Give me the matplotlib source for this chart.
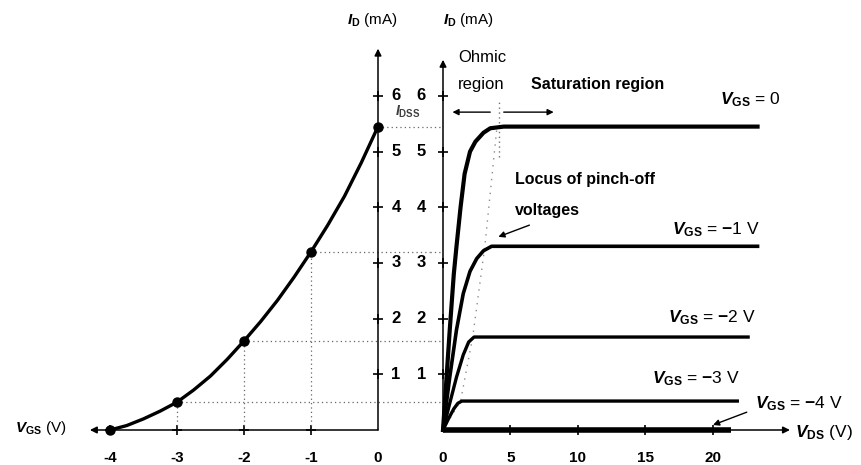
import numpy as np
import matplotlib.pyplot as plt

plt.rcParams['font.family'] = ['Liberation Sans', 'DejaVu Sans']
plt.rcParams['mathtext.fontset'] = 'custom'
plt.rcParams['mathtext.rm'] = 'Liberation Sans:bold'
plt.rcParams['mathtext.it'] = 'Liberation Sans:italic:bold'
plt.rcParams['mathtext.bf'] = 'Liberation Sans:bold'

# transfer characteristic, I_D vs V_GS (left)
vgs_pts = [-4, -3, -2, -1, 0]
id_pts = [0, 0.5, 1.6, 3.2, 5.45]
vgs_curve = [-4, -3.75, -3.5, -3.25, -3, -2.75, -2.5, -2.25, -2, -1.75, -1.5,
             -1.25, -1, -0.75, -0.5, -0.25, 0]
id_curve = [0, 0.08, 0.2, 0.34, 0.5, 0.72, 0.97, 1.27, 1.6, 1.95, 2.33,
            2.75, 3.2, 3.68, 4.2, 4.8, 5.45]
vgs_ticks = [-4, -3, -2, -1, 0]
id_ticks = [1, 2, 3, 4, 5, 6]
idss = 5.45

# drain characteristics, I_D vs V_DS (right)
vds_0 = [0, 0.25, 0.5, 0.8, 1.0, 1.3, 1.6, 2.0, 2.4, 3.0, 3.5, 4.5, 23.3]
id_0 = [0, 0.9, 1.8, 2.8, 3.3, 4.0, 4.6, 5.0, 5.18, 5.34, 5.42, 5.45, 5.45]
vds_1 = [0, 0.5, 1.0, 1.5, 2.0, 2.5, 3.0, 3.6, 23.3]
id_1 = [0, 0.95, 1.8, 2.45, 2.85, 3.08, 3.22, 3.3, 3.3]
vds_2 = [0, 0.5, 1.0, 1.5, 1.9, 2.3, 22.6]
id_2 = [0, 0.48, 0.95, 1.35, 1.58, 1.67, 1.67]
vds_3 = [0, 0.4, 0.8, 1.1, 1.4, 21.8]
id_3 = [0, 0.2, 0.38, 0.48, 0.52, 0.52]
vds_4 = [0, 21.3]
id_4 = [0, 0]
locus_vds = [0, 1.3, 2.2, 3.1, 4.0]
locus_id = [0, 0.52, 1.67, 3.3, 5.45]
vds_ticks = [0, 5, 10, 15, 20]

fig = plt.figure(figsize=(8.62, 4.65), dpi=100)
axl = fig.add_axes([0, 0, 430 / 862, 1])
axr = fig.add_axes([430 / 862, 0, 432 / 862, 1])
ylim = (-35 / 55.67, 430 / 55.67)
axl.set_xlim(-4 - 110 / 67, 52 / 67)
axr.set_xlim(-13 / 13.5, 419 / 13.5)
for ax in (axl, axr):
    ax.set_ylim(*ylim)
    ax.axis('off')

k = 'black'
arr = dict(arrowstyle='-|>', color=k, lw=1.1, mutation_scale=10, shrinkA=0, shrinkB=0)
dot = dict(linestyle=(0, (1, 2.5)), color='0.4', lw=0.9)

# ---- left panel
axl.annotate('', xy=(0, 6.85), xytext=(0, 0), arrowprops=arr, annotation_clip=False)
axl.annotate('', xy=(-4.3, 0), xytext=(0, 0), arrowprops=arr, annotation_clip=False)
axl.plot([0] * len(id_ticks), id_ticks, '+', color=k, ms=7, mew=1.2, clip_on=False)
axl.plot(vgs_ticks[:-1], [0] * 4, '+', color=k, ms=7, mew=1.2)
for v, i in zip(vgs_pts[1:-1], id_pts[1:-1]):
    axl.plot([v, v], [0, i], **dot)
    axl.plot([v, axl.get_xlim()[1]], [i, i], clip_on=False, **dot)
axl.plot([0, axl.get_xlim()[1]], [idss, idss], clip_on=False, **dot)
axl.plot(vgs_curve, id_curve, color=k, lw=2.4, solid_capstyle='round')
axl.plot(vgs_pts, id_pts, 'o', color=k, ms=6.5)
for t in id_ticks:
    axl.text(0.2, t, str(t), fontsize=12, fontweight='bold', ha='left', va='center')
for t in vgs_ticks:
    axl.text(t, -0.5, str(t), fontsize=11, fontweight='bold', ha='center', va='center')
axl.text(-5.42, 0.04, r'$V_{\rm GS}$ (V)', fontsize=11, ha='left', va='center')
axl.text(-0.09, 7.36, r'$I_{\rm D}$ (mA)', fontsize=11, ha='center', va='center')
axl.text(0.25, 5.72, r'$I_{\rm DSS}$', fontsize=10, ha='left', va='center', color='0.25')

# ---- right panel
xl = axr.get_xlim()[0]
for i in id_pts[1:-1] + [idss]:
    axr.plot([xl, 0], [i, i], clip_on=False, **dot)
axr.annotate('', xy=(0, 6.65), xytext=(0, 0), arrowprops=arr, annotation_clip=False)
axr.annotate('', xy=(25.7, 0), xytext=(0, 0), arrowprops=arr, annotation_clip=False)
axr.plot([0] * len(id_ticks), id_ticks, '+', color=k, ms=7, mew=1.2)
axr.plot(vds_ticks[1:], [0] * 4, '+', color=k, ms=7, mew=1.2)
axr.plot(locus_vds, locus_id, linestyle=(0, (1, 4)), color='0.55', lw=1.0)
axr.plot([4.15, 4.15], [4.9, 5.9], linestyle=(0, (1, 2.5)), color='0.45', lw=1.0)
axr.plot(vds_4, id_4, color=k, lw=4.0, solid_capstyle='butt')
axr.plot(vds_3, id_3, color=k, lw=2.4)
axr.plot(vds_2, id_2, color=k, lw=2.4)
axr.plot(vds_1, id_1, color=k, lw=2.6)
axr.plot(vds_0, id_0, color=k, lw=3.0)
for t in id_ticks:
    axr.text(-1.6, t, str(t), fontsize=12, fontweight='bold', ha='center', va='center',
             clip_on=False)
for t in vds_ticks:
    axr.text(t, -0.5, str(t), fontsize=11, fontweight='bold', ha='center', va='center')
axr.text(0, 7.36, r'$I_{\rm D}$ (mA)', fontsize=11, ha='left', va='center')

axr.text(1.1, 6.7, 'Ohmic', fontsize=12, ha='left', va='center')
axr.text(1.1, 6.2, 'region', fontsize=12, ha='left', va='center')
axr.text(6.5, 6.2, 'Saturation region', fontsize=11.5, fontweight='bold',
         ha='left', va='center')
arr2 = dict(arrowstyle='-|>', color=k, lw=1.0, mutation_scale=9, shrinkA=0, shrinkB=0)
axr.annotate('', xy=(0.7, 5.71), xytext=(3.5, 5.71), arrowprops=arr2)
axr.annotate('', xy=(8.2, 5.71), xytext=(4.5, 5.71), arrowprops=arr2)

axr.text(5.3, 4.5, 'Locus of pinch-off', fontsize=11.5, fontweight='bold',
         ha='left', va='center')
axr.text(5.3, 3.95, 'voltages', fontsize=11.5, fontweight='bold', ha='left', va='center')
axr.annotate('', xy=(4.1, 3.47), xytext=(6.4, 3.68), arrowprops=arr2)

lab = dict(fontsize=12.5, ha='left', va='center')
axr.text(20.5, 5.93, r'$V_{\rm GS}$ = 0', **lab)
axr.text(17.0, 3.59, r'$V_{\rm GS}$ = $-$1 V', **lab)
axr.text(16.7, 2.01, r'$V_{\rm GS}$ = $-$2 V', **lab)
axr.text(15.5, 0.93, r'$V_{\rm GS}$ = $-$3 V', **lab)
axr.text(23.1, 0.48, r'$V_{\rm GS}$ = $-$4 V', **lab)
axr.annotate('', xy=(20.0, 0.09), xytext=(22.5, 0.32), arrowprops=arr2)
axr.text(26.1, -0.04, r'$V_{\rm DS}$ (V)', **lab)

fig.savefig('out.png', dpi=100)
